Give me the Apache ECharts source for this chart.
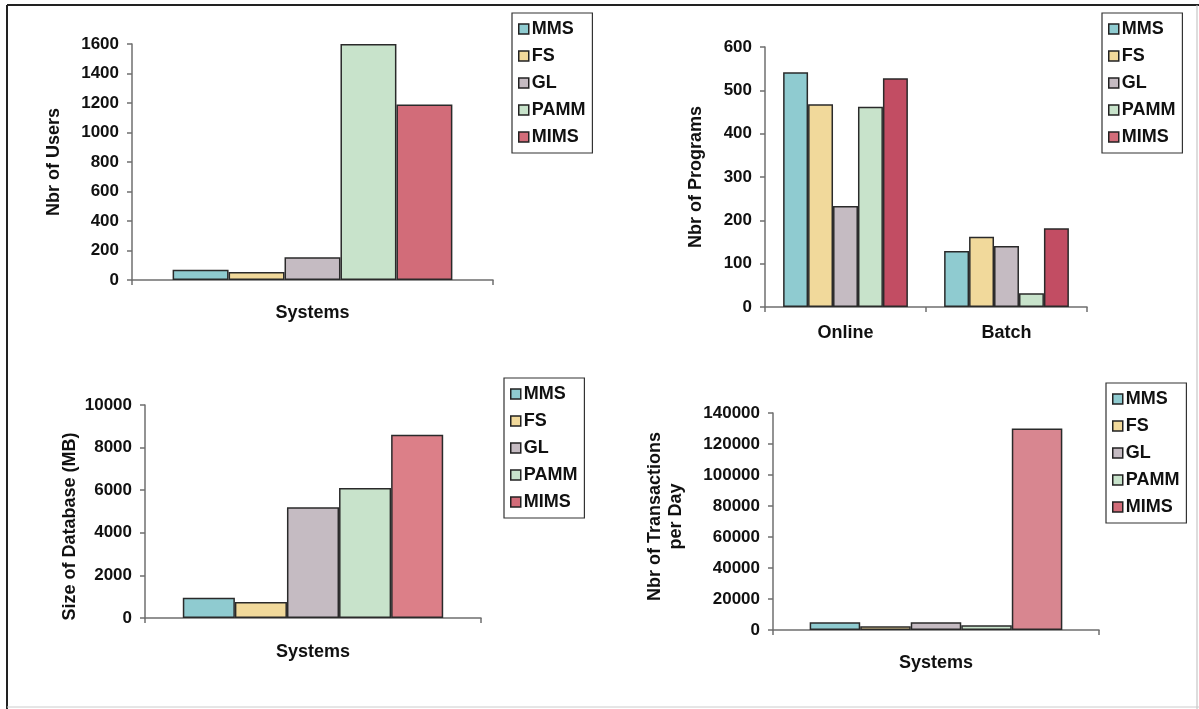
<!DOCTYPE html>
<html>
<head>
<meta charset="utf-8">
<script src="https://cdn.jsdelivr.net/npm/echarts@6/dist/echarts.min.js"></script>
<style>
html,body{margin:0;padding:0;background:#fff;}
#chart{width:1199px;height:709px;}
</style>
</head>
<body>
<div id="chart"></div>
<script>
// ---- data ----
const seriesNames = ['MMS', 'FS', 'GL', 'PAMM', 'MIMS'];
const systemsCategory = [''];
const programCategories = ['Online', 'Batch'];

const usersValues = [70, 55, 155, 1600, 1190];                  // Nbr of Users per system
const programsOnline = [542, 468, 233, 462, 528];               // Online programs per system
const programsBatch = [129, 162, 141, 32, 182];                 // Batch programs per system
const dbSizeValues = [950, 750, 5200, 6100, 8600];              // Size of Database (MB)
const transValues = [5000, 2500, 5000, 3000, 130000];           // Transactions per day

const usersTicks = [0, 200, 400, 600, 800, 1000, 1200, 1400, 1600];
const programsTicks = [0, 100, 200, 300, 400, 500, 600];
const dbTicks = [0, 2000, 4000, 6000, 8000, 10000];
const transTicks = [0, 20000, 40000, 60000, 80000, 100000, 120000, 140000];

// ---- styles ----
const FONT = "'Liberation Sans', Arial, sans-serif";
const baseColors = ['#8fcbd0', '#f1d99b', '#c5bbc2', '#c8e3cb'];
const mimsColors = ['#d26c79', '#c24d63', '#dc7f88', '#d88690'];
const axisColor = '#6f6f6f';

const grids = [
  {left: 132, top: 44, width: 361, height: 236},
  {left: 765, top: 47, width: 322, height: 260},
  {left: 145, top: 405, width: 336, height: 213},
  {left: 773, top: 413, width: 326, height: 217}
];

function yAxis(gi, ticks, name, gap, pad) {
  return {
    type: 'value', gridIndex: gi,
    min: ticks[0], max: ticks[ticks.length - 1], interval: ticks[1] - ticks[0],
    name: name, nameLocation: 'middle', nameGap: gap,
    nameTextStyle: {fontFamily: FONT, fontWeight: 'bold', fontSize: 18, color: '#111', lineHeight: 21, padding: pad || 0},
    axisLine: {show: true, lineStyle: {color: axisColor, width: 1.5}},
    axisTick: {show: true, length: 5, lineStyle: {color: axisColor, width: 1.5}},
    splitLine: {show: false},
    axisLabel: {fontFamily: FONT, fontWeight: 'bold', fontSize: 17, color: '#111', margin: 13,
      formatter: v => String(v)}
  };
}
function xAxis(gi, cats, name, gap, showLabel) {
  return {
    type: 'category', gridIndex: gi, data: cats,
    name: name, nameLocation: 'middle', nameGap: gap,
    nameTextStyle: {fontFamily: FONT, fontWeight: 'bold', fontSize: 18, color: '#111'},
    axisLine: {show: true, lineStyle: {color: axisColor, width: 1.5}},
    axisTick: {show: true, length: 5, lineStyle: {color: axisColor, width: 1.5}},
    axisLabel: {show: showLabel, fontFamily: FONT, fontWeight: 'bold', fontSize: 18, color: '#111', margin: 17}
  };
}
function legend(left, top) {
  return {
    orient: 'vertical', left: left, top: top,
    data: seriesNames,
    padding: [7, 7, 7, 6],
    itemWidth: 10, itemHeight: 10, itemGap: 9,
    borderColor: '#333', borderWidth: 1.2,
    backgroundColor: '#fff',
    icon: 'rect',
    itemStyle: {borderColor: '#222', borderWidth: 1.5},
    textStyle: {fontFamily: FONT, fontWeight: 'bold', fontSize: 18, color: '#111', padding: [0, 0, 0, -2]},
    selectedMode: false
  };
}

function barSeries(gi, valuesPerSeries) {
  return seriesNames.map((n, i) => ({
    name: n, type: 'bar', xAxisIndex: gi, yAxisIndex: gi,
    data: valuesPerSeries[i],
    barGap: '0%', barCategoryGap: '22.5%',
    itemStyle: {color: i < 4 ? baseColors[i] : mimsColors[gi], borderColor: '#2a2a2a', borderWidth: 1.5},
    emphasis: {disabled: true}
  }));
}

const series = [].concat(
  barSeries(0, usersValues.map(v => [v])),
  barSeries(1, programsOnline.map((v, i) => [v, programsBatch[i]])),
  barSeries(2, dbSizeValues.map(v => [v])),
  barSeries(3, transValues.map(v => [v]))
);

const chart = echarts.init(document.getElementById('chart'), null, {renderer: 'canvas'});
chart.setOption({
  animation: false,
  backgroundColor: '#fff',
  grid: grids,
  xAxis: [
    xAxis(0, systemsCategory, 'Systems', 24, false),
    xAxis(1, programCategories, '', 0, true),
    xAxis(2, systemsCategory, 'Systems', 25, false),
    xAxis(3, systemsCategory, 'Systems', 24, false)
  ],
  yAxis: [
    yAxis(0, usersTicks, 'Nbr of Users', 67),
    yAxis(1, programsTicks, 'Nbr of Programs', 58),
    yAxis(2, dbTicks, 'Size of Database (MB)', 57, [0, 30, 0, 0]),
    yAxis(3, transTicks, 'Nbr of Transactions\nper Day', 86, [0, 0, 0, 10])
  ],
  legend: [legend(512, 13), legend(1102, 13), legend(504, 378), legend(1106, 383)],
  graphic: [
    {type: 'line', silent: true, shape: {x1: 7, y1: 5, x2: 1199, y2: 5}, style: {stroke: '#222', lineWidth: 2}},
    {type: 'line', silent: true, shape: {x1: 7, y1: 5, x2: 7, y2: 709}, style: {stroke: '#222', lineWidth: 2}},
    {type: 'line', silent: true, shape: {x1: 1197, y1: 5, x2: 1197, y2: 709}, style: {stroke: '#bbb', lineWidth: 1}},
    {type: 'line', silent: true, shape: {x1: 7, y1: 707, x2: 1199, y2: 707}, style: {stroke: '#ccc', lineWidth: 1}}
  ],
  series: series
});
</script>
</body>
</html>
